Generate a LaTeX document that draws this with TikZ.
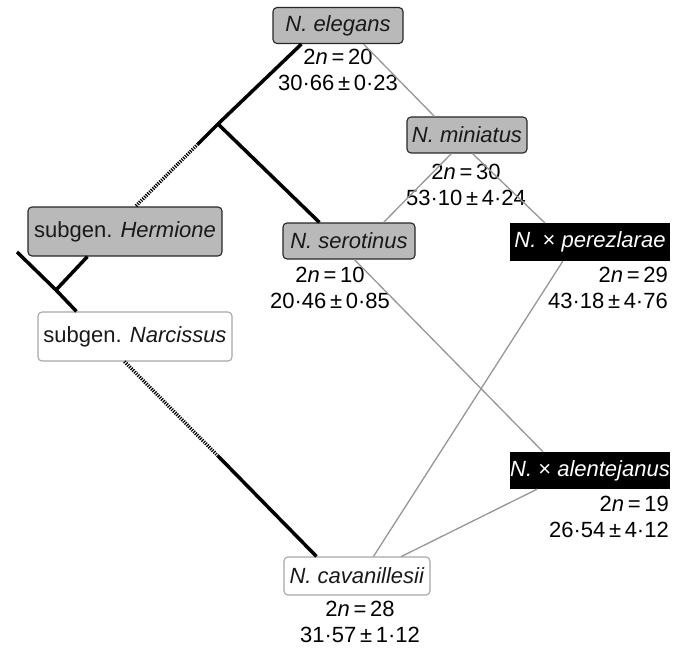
\documentclass[tikz,border=0pt]{standalone}
\usepackage{fontspec}
\setmainfont{Liberation Sans}
\usetikzlibrary{calc}
\definecolor{boxgray}{RGB}{185,185,185}
\definecolor{linkgray}{RGB}{150,150,150}

\begin{document}
\begin{tikzpicture}[x=1pt,y=-1pt,
    every node/.style={font=\fontsize{22}{26.5}\selectfont},
    taxon/.style={rounded corners=4pt, minimum height=36, inner xsep=0, text=black!90, line width=1.1pt},
    graybox/.style={taxon, draw=black!85, fill=boxgray},
    whitebox/.style={taxon, draw=black!35, fill=white},
    blackbox/.style={fill=black, text=white, minimum height=37, inner xsep=0},
    data/.style={align=center, inner sep=0},
    branch/.style={line width=3.5pt, black},
    gap/.style={branch, dash pattern=on 1.2pt off 1.2pt},
    link/.style={line width=1.3pt, linkgray}]
    \useasboundingbox (0,0) rectangle (684,647);
    %
    \node[graybox, minimum width=130] (eleg) at (338,25.5) {\textit{N. elegans}};
    \node[data] (elegdat) at (338,70) {2\textit{n}\,=\,20\\30·66\,±\,0·23};
    %
    \node[graybox, minimum width=120] (mini) at (467,135) {\textit{N. miniatus}};
    \node[data] (minidat) at (466,185) {2\textit{n}\,=\,30\\53·10\,±\,4·24};
    %
    \node[graybox, minimum width=194, minimum height=49] (herm) at (125,231.5) {subgen. \textit{Hermione}};
    \node[whitebox, minimum width=194, minimum height=49] (narc) at (135,336.5) {subgen. \textit{Narcissus}};
    %
    \node[graybox, minimum width=132] (sero) at (349,241) {\textit{N. serotinus}};
    \node[data] (serodat) at (330,288) {2\textit{n}\,=\,10\\20·46\,±\,0·85};
    %
    \node[blackbox, minimum width=160, minimum height=38] (pere) at (590,242) {\textit{N.} × \textit{perezlarae}};
    \node[data, align=right, anchor=east] (peredat) at (668,288) {2\textit{n}\,=\,29\\43·18\,±\,4·76};
    %
    \node[blackbox, minimum width=159] (alen) at (590,470.5) {\textit{N.} × \textit{alentejanus}};
    \node[data, align=right, anchor=east] (alendat) at (669,517) {2\textit{n}\,=\,19\\26·54\,±\,4·12};
    %
    \node[whitebox, minimum width=146, minimum height=38] (cava) at (357,576) {\textit{N. cavanillesii}};
    \node[data] (cavadat) at (360,622) {2\textit{n}\,=\,28\\31·57\,±\,1·12};
    %
    \coordinate (j1) at (218,124);
    \coordinate (k1) at (198,144);
    \coordinate (root) at (17,252);
    \coordinate (j2) at (56,290);
    \coordinate (k2) at (218,456);
    %
    \draw[branch] ($(eleg.south west)+(29,0)$) -- (j1) -- (k1);
    \draw[gap] (k1) -- ($(herm.north west)+(108,0)$);
    \draw[branch] (j1) -- ($(sero.north west)+(37,0)$);
    \draw[branch] ($(herm.south west)+(60,0)$) -- (j2);
    \draw[branch] (root) -- (j2) -- ($(narc.north west)+(39,0)$);
    \draw[gap] ($(narc.south west)+(87,0)$) -- (k2);
    \draw[branch] (k2) -- ($(cava.north west)+(33,0)$);
    %
    \draw[link] ($(eleg.south east)+(-40,0)$) -- ($(mini.north west)+(28,0)$);
    \draw[link] ($(mini.south west)+(45,0)$) -- ($(sero.north east)+(-32,0)$);
    \draw[link] ($(mini.south west)+(66,0)$) -- ($(pere.north west)+(35,0)$);
    \draw[link] ($(sero.south west)+(72,0)$) -- ($(alen.north west)+(33,0)$);
    \draw[link] ($(pere.south west)+(53,0)$) -- ($(cava.north west)+(90,0)$);
    \draw[link] ($(alen.south west)+(27,0)$) -- ($(cava.north west)+(118,0)$);
\end{tikzpicture}
\end{document}
